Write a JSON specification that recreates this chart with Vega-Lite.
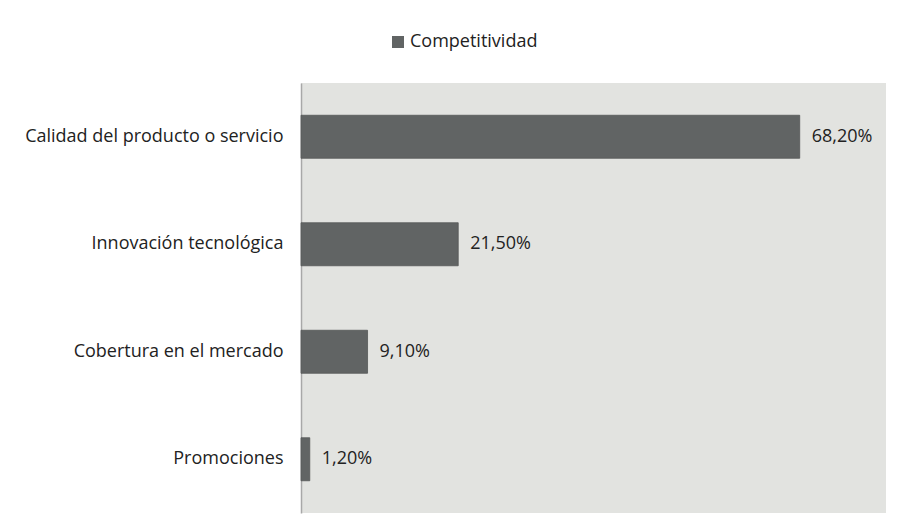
{
  "$schema": "https://vega.github.io/schema/vega-lite/v6.json",
  "width": 585,
  "height": 430,
  "autosize": "none",
  "padding": {"left": 301, "top": 83, "right": 15, "bottom": 17},
  "background": "white",
  "config": {
    "font": "Open Sans",
    "view": {"fill": "#e2e3e0", "stroke": null}
  },
  "data": {
    "values": [
      {"categoria": "Calidad del producto o servicio", "valor": 0.682, "etiqueta": "68,20%", "serie": "Competitividad"},
      {"categoria": "Innovación tecnológica", "valor": 0.215, "etiqueta": "21,50%", "serie": "Competitividad"},
      {"categoria": "Cobertura en el mercado", "valor": 0.091, "etiqueta": "9,10%", "serie": "Competitividad"},
      {"categoria": "Promociones", "valor": 0.012, "etiqueta": "1,20%", "serie": "Competitividad"}
    ]
  },
  "encoding": {
    "y": {
      "field": "categoria",
      "type": "nominal",
      "sort": null,
      "scale": {"paddingInner": 0.6, "paddingOuter": 0.3},
      "axis": {
        "title": null,
        "ticks": false,
        "labelPadding": 18,
        "labelFontSize": 18,
        "labelLimit": 0,
        "labelColor": "#222222",
        "labelFont": "Open Sans",
        "domainColor": "#a8a8a8",
        "domainWidth": 1.5,
        "grid": false
      }
    },
    "x": {
      "field": "valor",
      "type": "quantitative",
      "scale": {"domain": [0, 0.8], "nice": false},
      "axis": null
    }
  },
  "layer": [
    {
      "mark": {"type": "bar", "stroke": "#555858", "strokeWidth": 0.8},
      "encoding": {
        "color": {
          "field": "serie",
          "type": "nominal",
          "scale": {"range": ["#616464"]},
          "legend": {
            "title": null,
            "orient": "none",
            "legendX": 88,
            "legendY": -50,
            "symbolType": "square",
            "symbolSize": 144,
            "symbolStrokeWidth": 0,
            "labelFontSize": 18,
            "labelColor": "#222222",
            "labelOffset": 3,
            "labelLimit": 0,
            "labelFont": "Open Sans"
          }
        }
      }
    },
    {
      "mark": {"type": "text", "align": "left", "dx": 12, "fontSize": 18, "color": "#222222", "font": "Open Sans"},
      "encoding": {"text": {"field": "etiqueta"}}
    }
  ]
}
